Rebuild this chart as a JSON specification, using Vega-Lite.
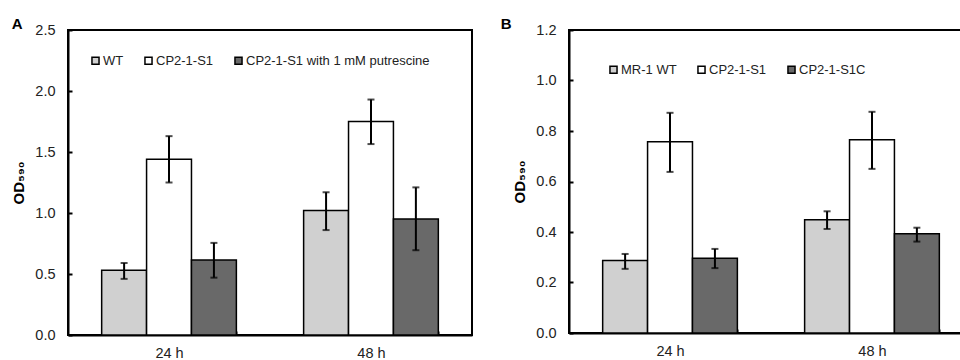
{
  "$schema": "https://vega.github.io/schema/vega-lite/v6.json",
  "padding": {"left": 10, "top": 16, "right": 0, "bottom": 0},
  "spacing": 26,
  "config": {
    "font": "Liberation Sans",
    "view": {"stroke": "black", "strokeWidth": 2},
    "axis": {"labelFont": "Liberation Sans", "labelFontSize": 14.5, "labelColor": "#222", "domainColor": "black", "domainWidth": 2, "tickColor": "black", "tickWidth": 2, "grid": false},
    "title": {"font": "Liberation Sans", "fontSize": 15, "fontWeight": "bold", "anchor": "start", "frame": "bounds", "offset": -10}
  },
  "datasets": {
    "a": [
      {"time": "24 h", "strain": "WT", "mean": 0.53, "lo": 0.46, "hi": 0.59},
      {"time": "24 h", "strain": "CP2-1-S1", "mean": 1.44, "lo": 1.25, "hi": 1.63},
      {"time": "24 h", "strain": "CP2-1-S1 with 1 mM putrescine", "mean": 0.615, "lo": 0.47, "hi": 0.755},
      {"time": "48 h", "strain": "WT", "mean": 1.02, "lo": 0.86, "hi": 1.17},
      {"time": "48 h", "strain": "CP2-1-S1", "mean": 1.75, "lo": 1.565, "hi": 1.93},
      {"time": "48 h", "strain": "CP2-1-S1 with 1 mM putrescine", "mean": 0.95, "lo": 0.695, "hi": 1.21}
    ],
    "b": [
      {"time": "24 h", "strain": "MR-1 WT", "mean": 0.287, "lo": 0.254, "hi": 0.313},
      {"time": "24 h", "strain": "CP2-1-S1", "mean": 0.757, "lo": 0.638, "hi": 0.872},
      {"time": "24 h", "strain": "CP2-1-S1C", "mean": 0.296, "lo": 0.257, "hi": 0.333},
      {"time": "48 h", "strain": "MR-1 WT", "mean": 0.449, "lo": 0.412, "hi": 0.482},
      {"time": "48 h", "strain": "CP2-1-S1", "mean": 0.765, "lo": 0.65, "hi": 0.876},
      {"time": "48 h", "strain": "CP2-1-S1C", "mean": 0.393, "lo": 0.362, "hi": 0.417}
    ]
  },
  "hconcat": [
    {
      "title": {"text": "A"},
      "width": 404,
      "height": 305,
      "data": {"name": "a"},
      "encoding": {
        "x": {"field": "time", "type": "nominal", "title": null,
          "scale": {"paddingInner": 0.333, "paddingOuter": 0.1667},
          "axis": {"labelAngle": 0, "tickBand": "extent", "tickSize": -4, "labelPadding": 15}},
        "xOffset": {"field": "strain", "type": "nominal", "sort": ["WT", "CP2-1-S1", "CP2-1-S1 with 1 mM putrescine"], "scale": {"paddingInner": 0, "paddingOuter": 0}}
      },
      "layer": [
        {
          "mark": {"type": "bar", "stroke": "black", "strokeWidth": 1.5},
          "encoding": {
            "y": {"field": "mean", "type": "quantitative", "title": "OD₅₉₀",
              "scale": {"domain": [0, 2.5], "nice": false},
              "axis": {"values": [0, 0.5, 1, 1.5, 2, 2.5], "format": ".1f", "tickSize": -4, "labelPadding": 17, "titleFontSize": 15, "titleFontWeight": "bold", "titleColor": "black", "titlePadding": 8}},
            "color": {"field": "strain", "type": "nominal",
              "scale": {"domain": ["WT", "CP2-1-S1", "CP2-1-S1 with 1 mM putrescine"], "range": ["#d0d0d0", "#ffffff", "#696969"]},
              "legend": {"title": null, "orient": "none", "direction": "horizontal", "legendX": 21, "legendY": 24, "symbolType": "square", "symbolSize": 50, "symbolStrokeColor": "black", "symbolStrokeWidth": 1.5, "symbolOpacity": 1, "labelFontSize": 13, "labelFont": "Liberation Sans", "labelColor": "#222", "labelOffset": 1, "labelLimit": 400, "columnPadding": 17}}
          }
        },
        {
          "mark": {"type": "rule", "color": "black", "strokeWidth": 2},
          "encoding": {"y": {"field": "lo", "type": "quantitative"}, "y2": {"field": "hi"}}
        },
        {
          "mark": {"type": "tick", "color": "black", "thickness": 2, "size": 7, "orient": "horizontal"},
          "encoding": {"y": {"field": "lo", "type": "quantitative"}}
        },
        {
          "mark": {"type": "tick", "color": "black", "thickness": 2, "size": 7, "orient": "horizontal"},
          "encoding": {"y": {"field": "hi", "type": "quantitative"}}
        }
      ]
    },
    {
      "title": {"text": "B", "dx": -12},
      "width": 404,
      "height": 303,
      "data": {"name": "b"},
      "encoding": {
        "x": {"field": "time", "type": "nominal", "title": null,
          "scale": {"paddingInner": 0.333, "paddingOuter": 0.1667},
          "axis": {"labelAngle": 0, "tickBand": "extent", "tickSize": -4, "labelPadding": 15}},
        "xOffset": {"field": "strain", "type": "nominal", "sort": ["MR-1 WT", "CP2-1-S1", "CP2-1-S1C"], "scale": {"paddingInner": 0, "paddingOuter": 0}}
      },
      "layer": [
        {
          "mark": {"type": "bar", "stroke": "black", "strokeWidth": 1.5},
          "encoding": {
            "y": {"field": "mean", "type": "quantitative", "title": "OD₅₉₀",
              "scale": {"domain": [0, 1.2], "nice": false},
              "axis": {"values": [0, 0.2, 0.4, 0.6, 0.8, 1.0, 1.2], "format": ".1f", "tickSize": -4, "labelPadding": 17, "titleFontSize": 15, "titleFontWeight": "bold", "titleColor": "black", "titlePadding": 8}},
            "color": {"field": "strain", "type": "nominal",
              "scale": {"domain": ["MR-1 WT", "CP2-1-S1", "CP2-1-S1C"], "range": ["#d0d0d0", "#ffffff", "#696969"]},
              "legend": {"title": null, "orient": "none", "direction": "horizontal", "legendX": 38, "legendY": 33, "symbolType": "square", "symbolSize": 50, "symbolStrokeColor": "black", "symbolStrokeWidth": 1.5, "symbolOpacity": 1, "labelFontSize": 13, "labelFont": "Liberation Sans", "labelColor": "#222", "labelOffset": 1, "labelLimit": 400, "columnPadding": 17}}
          }
        },
        {
          "mark": {"type": "rule", "color": "black", "strokeWidth": 2},
          "encoding": {"y": {"field": "lo", "type": "quantitative"}, "y2": {"field": "hi"}}
        },
        {
          "mark": {"type": "tick", "color": "black", "thickness": 2, "size": 7, "orient": "horizontal"},
          "encoding": {"y": {"field": "lo", "type": "quantitative"}}
        },
        {
          "mark": {"type": "tick", "color": "black", "thickness": 2, "size": 7, "orient": "horizontal"},
          "encoding": {"y": {"field": "hi", "type": "quantitative"}}
        }
      ]
    }
  ],
  "resolve": {"scale": {"color": "independent", "xOffset": "independent", "x": "independent", "y": "independent"}, "legend": {"color": "independent"}, "axis": {"x": "independent", "y": "independent"}}
}
